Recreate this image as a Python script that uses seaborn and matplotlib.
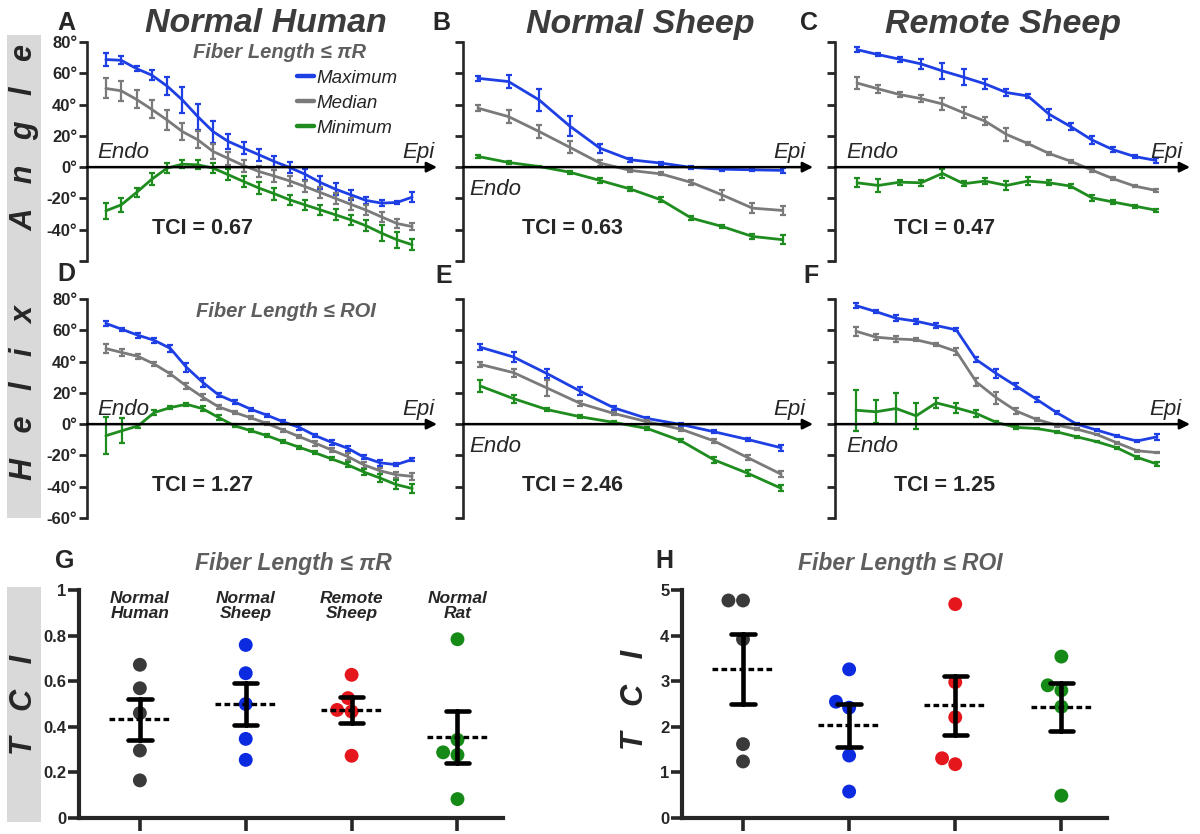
import numpy as np
import pandas as pd
import matplotlib
matplotlib.use('Agg')
import matplotlib.pyplot as plt
import seaborn as sns
from matplotlib.patches import Rectangle

sns.set_style('white')
plt.rcParams['font.family'] = ['Liberation Sans', 'DejaVu Sans']

# ---- helix angle profiles (mean, sem), Endo -> Epi ----
# A: normal human, fiber length <= pi R
a_max = [68.8, 68.3, 63.0, 58.8, 51.8, 42.9, 32.3, 22.7, 16.4, 12.1, 7.9, 3.6, -0.2, -4.5, -9.8, -14.1, -17.7, -21.3, -23.0, -22.6, -19.2]
a_max_err = [4.2, 2.5, 1.5, 3.0, 6.0, 8.5, 8.3, 7.0, 4.5, 4.0, 4.0, 3.7, 3.7, 3.5, 4.0, 3.7, 3.4, 2.3, 1.8, 0.8, 3.2]
a_med = [50.3, 48.8, 43.3, 36.9, 30.1, 22.7, 17.5, 10.0, 5.5, 1.0, -2.8, -5.7, -8.8, -12.4, -16.2, -20.0, -23.8, -27.5, -31.8, -36.0, -38.0]
a_med_err = [6.4, 6.4, 5.8, 5.8, 6.4, 5.3, 5.5, 5.0, 4.0, 3.8, 3.6, 3.8, 3.4, 3.8, 3.7, 3.7, 3.8, 3.2, 3.2, 3.0, 2.0]
a_min = [-27.9, -24.1, -16.2, -7.7, -0.6, 1.9, 1.5, -0.6, -4.9, -9.2, -13.4, -17.0, -20.9, -24.1, -27.3, -30.5, -33.7, -37.5, -42.2, -46.4, -49.6]
a_min_err = [5.0, 4.5, 3.0, 4.0, 3.2, 2.6, 3.0, 3.0, 3.5, 3.7, 3.7, 3.7, 3.2, 3.2, 3.2, 3.5, 3.4, 3.5, 5.0, 5.0, 3.6]

# B: normal sheep, pi R
b_max = [56.8, 54.7, 43.0, 26.4, 12.1, 4.7, 2.6, -0.2, -1.3, -1.7, -2.1]
b_max_err = [1.5, 4.0, 7.0, 6.6, 2.8, 1.2, 1.0, 0.8, 1.0, 1.0, 1.5]
b_med = [37.7, 32.3, 22.8, 12.8, 2.6, -2.1, -4.3, -9.8, -17.7, -26.2, -27.7]
b_med_err = [2.0, 4.0, 4.0, 4.0, 2.0, 1.0, 1.0, 1.5, 3.0, 3.0, 3.0]
b_min = [6.8, 3.0, 0.4, -3.2, -8.5, -14.0, -20.9, -32.6, -37.9, -44.3, -46.4]
b_min_err = [1.0, 1.0, 0.5, 1.0, 1.5, 1.5, 1.5, 1.5, 1.0, 1.5, 3.0]

# C: remote sheep, pi R
c_max = [75.1, 71.9, 69.0, 66.0, 61.5, 57.5, 53.2, 47.7, 45.5, 33.8, 26.0, 17.4, 11.1, 6.8, 4.3]
c_max_err = [1.5, 1.0, 1.5, 3.0, 5.0, 5.0, 3.0, 2.5, 1.5, 3.5, 2.0, 2.5, 1.5, 1.0, 1.5]
c_med = [53.8, 50.0, 46.4, 43.8, 40.4, 34.7, 29.4, 20.9, 15.1, 8.7, 3.8, -1.9, -7.4, -12.1, -14.9]
c_med_err = [4.0, 2.5, 1.5, 2.0, 4.0, 3.5, 2.5, 4.0, 1.0, 1.0, 1.0, 1.0, 1.0, 0.5, 1.0]
c_min = [-10.0, -11.7, -9.6, -10.0, -4.0, -10.6, -8.9, -11.7, -8.9, -10.0, -12.1, -19.6, -22.3, -24.9, -27.5]
c_min_err = [3.0, 4.0, 1.5, 2.0, 3.0, 1.5, 2.0, 3.0, 2.5, 1.5, 1.5, 2.0, 1.0, 1.0, 1.0]

# D: normal human, ROI
d_max = [64.4, 60.6, 56.8, 53.6, 48.4, 36.3, 26.8, 18.6, 14.1, 9.5, 5.7, 1.5, -2.1, -7.4, -11.6, -15.4, -21.1, -24.7, -25.9, -22.6]
d_max_err = [1.5, 1.0, 1.5, 1.5, 2.5, 3.0, 3.0, 1.5, 1.5, 1.0, 1.0, 1.0, 1.5, 1.0, 1.5, 1.5, 1.5, 2.0, 1.0, 1.0]
d_med = [48.3, 45.8, 43.3, 38.4, 32.1, 24.3, 17.3, 11.0, 7.4, 4.0, 0.4, -3.8, -8.0, -12.2, -16.5, -20.7, -26.0, -29.8, -32.3, -33.4]
d_med_err = [3.0, 2.5, 1.5, 1.5, 1.5, 2.0, 2.0, 1.0, 1.0, 1.0, 1.0, 1.0, 1.0, 1.5, 1.5, 2.0, 2.0, 2.0, 2.0, 2.0]
d_min = [-7.4, -4.2, -1.1, 7.4, 10.6, 12.7, 9.9, 4.2, -1.1, -4.2, -7.4, -11.2, -14.8, -18.4, -22.2, -26.0, -30.6, -34.4, -38.6, -41.1]
d_min_err = [12.0, 8.0, 1.5, 1.5, 1.0, 1.0, 1.5, 1.5, 1.0, 1.0, 1.0, 1.0, 1.0, 1.0, 1.0, 1.5, 2.0, 2.5, 3.0, 3.0]

# E: normal sheep, ROI
e_max = [49.2, 42.9, 32.3, 21.0, 10.4, 3.6, -0.2, -4.9, -9.8, -15.1]
e_max_err = [2.0, 3.0, 3.0, 2.5, 1.5, 1.0, 1.0, 1.0, 1.0, 2.0]
e_med = [38.2, 32.9, 23.1, 13.2, 6.8, 1.5, -3.2, -10.8, -21.4, -32.0]
e_med_err = [1.5, 2.5, 5.0, 1.5, 1.0, 1.0, 1.0, 1.0, 1.5, 2.0]
e_min = [24.4, 16.3, 9.3, 4.7, 1.1, -2.8, -10.6, -22.9, -31.4, -41.0]
e_min_err = [4.0, 2.5, 1.0, 1.0, 1.0, 1.0, 1.0, 2.0, 2.0, 2.0]

# F: remote sheep, ROI
f_max = [75.8, 71.9, 67.7, 65.8, 63.0, 60.3, 41.2, 32.3, 24.2, 15.9, 7.4, 0.0, -3.8, -7.6, -10.8, -8.1]
f_max_err = [1.5, 1.0, 2.0, 1.5, 1.5, 1.0, 1.5, 3.0, 2.0, 1.5, 1.0, 0.5, 0.5, 0.5, 0.5, 2.0]
f_med = [59.4, 55.6, 54.5, 53.9, 50.9, 46.5, 26.9, 16.8, 8.3, 3.0, -0.6, -3.2, -6.6, -11.9, -17.0, -18.2]
f_med_err = [3.0, 2.0, 2.0, 1.0, 1.0, 2.0, 2.5, 4.0, 2.0, 1.0, 1.0, 0.5, 0.5, 0.5, 0.5, 0.5]
f_min = [8.9, 7.9, 10.0, 5.3, 13.6, 10.4, 6.8, 1.1, -2.1, -2.8, -4.9, -8.1, -11.2, -15.1, -21.2, -25.5]
f_min_err = [13.0, 7.4, 10.0, 8.5, 3.0, 3.0, 2.5, 1.0, 1.0, 0.5, 0.5, 0.5, 0.5, 0.5, 1.0, 1.0]

tci_labels = ['TCI = 0.67', 'TCI = 0.63', 'TCI = 0.47', 'TCI = 1.27', 'TCI = 2.46', 'TCI = 1.25']
angle_ticks = [-60, -40, -20, 0, 20, 40, 60, 80]

# ---- TCI per heart ----
groups = ['Normal\nHuman', 'Normal\nSheep', 'Remote\nSheep', 'Normal\nRat']
g_human = [0.672, 0.569, 0.460, 0.296, 0.165]
g_sheep = [0.759, 0.635, 0.500, 0.347, 0.255]
g_remote = [0.628, 0.526, 0.474, 0.467, 0.273]
g_rat = [0.784, 0.343, 0.288, 0.277, 0.083]
h_human = [4.77, 4.77, 3.92, 1.62, 1.24]
h_sheep = [3.26, 2.55, 2.42, 1.37, 0.58]
h_remote = [4.69, 2.98, 2.21, 1.31, 1.18]
h_rat = [3.54, 2.91, 2.80, 2.44, 0.49]

BLUE, GRAY, GREEN = '#1d3fe4', '#7a7a7a', '#1e8c1e'
DOTS = ['#3a3a3a', '#0c2ae0', '#e5161c', '#168a16']
TITLE_C = '#3c3c3c'
SUB_C = '#5e5e5e'

fig = plt.figure(figsize=(12, 8.34), dpi=100)
W, H = 1200, 834


def add_ax(left, top, right, bottom):
    return fig.add_axes([left / W, 1 - bottom / H, (right - left) / W, (bottom - top) / H])


# gray side strips
fig.patches.append(Rectangle((7 / W, 1 - 518 / H), 34 / W, 483 / H, transform=fig.transFigure,
                             facecolor='#d9d9d9', edgecolor='none', zorder=0))
fig.patches.append(Rectangle((7 / W, 1 - 822 / H), 34 / W, 235 / H, transform=fig.transFigure,
                             facecolor='#d9d9d9', edgecolor='none', zorder=0))
fig.text(24 / W, 1 - 262 / H, 'H   e   l   i   x         A   n   g   l   e', rotation=90,
         ha='center', va='center', fontsize=22, fontweight='bold', fontstyle='italic')
fig.text(24 / W, 1 - 705 / H, 'T   C   I', rotation=90, ha='center', va='center',
         fontsize=22, fontweight='bold', fontstyle='italic')
fig.text(635 / W, 1 - 700 / H, 'T   C   I', rotation=90, ha='center', va='center',
         fontsize=22, fontweight='bold', fontstyle='italic')

# column titles
for xc, t in [(266, 'Normal Human'), (640, 'Normal Sheep'), (1003, 'Remote Sheep')]:
    fig.text(xc / W, 1 - 24 / H, t, ha='center', va='center', fontsize=24.5,
             fontweight='bold', fontstyle='italic', color=TITLE_C)

# panel letters
for xl, yl, t in [(57, 23, 'A'), (432, 23, 'B'), (800, 23, 'C'),
                  (57, 274, 'D'), (435, 276, 'E'), (803, 276, 'F'),
                  (55, 561, 'G'), (655, 561, 'H')]:
    fig.text(xl / W, 1 - yl / H, t, ha='left', va='center', fontsize=18, fontweight='bold')

panels = [
    # (box px), series, tci, first/last point (axes frac), endo above?, endo x, epi x, tci x, ylabels
    ((87, 42, 437, 261), (a_max, a_max_err, a_med, a_med_err, a_min, a_min_err), 0, (0.054, 0.929), True, 0.029, 0.994, 0.186, 'noLast'),
    ((463, 42, 813, 261), (b_max, b_max_err, b_med, b_med_err, b_min, b_min_err), 1, (0.043, 0.914), False, 0.017, 0.98, 0.17, None),
    ((835, 42, 1190, 261), (c_max, c_max_err, c_med, c_med_err, c_min, c_min_err), 2, (0.062, 0.904), True, 0.031, 0.98, 0.166, None),
    ((87, 299, 437, 518), (d_max, d_max_err, d_med, d_med_err, d_min, d_min_err), 3, (0.054, 0.929), True, 0.029, 0.994, 0.186, 'all'),
    ((463, 299, 813, 518), (e_max, e_max_err, e_med, e_med_err, e_min, e_min_err), 4, (0.049, 0.909), False, 0.017, 0.98, 0.17, None),
    ((835, 299, 1190, 518), (f_max, f_max_err, f_med, f_med_err, f_min, f_min_err), 5, (0.059, 0.907), False, 0.031, 0.977, 0.166, None),
]

prof_axes = []
for box, ser, ti, (f0, f1), endo_up, ex, px, tx, ylab in panels:
    ax = add_ax(*box)
    prof_axes.append(ax)
    vmax, emax, vmed, emed, vmin, emin = ser
    x = np.linspace(0, 1, len(vmax))  # normalised wall depth, Endo -> Epi
    for vals, errs, col, lab in [(vmax, emax, BLUE, 'Maximum'), (vmed, emed, GRAY, 'Median'),
                                 (vmin, emin, GREEN, 'Minimum')]:
        sns.lineplot(x=x, y=vals, color=col, lw=2.0, ax=ax, label=lab, clip_on=False)
        ax.errorbar(x, vals, yerr=errs, fmt='none', ecolor=col, elinewidth=1.6,
                    capsize=2.5, capthick=1.6, clip_on=False)
    span = 1 / (f1 - f0)
    ax.set_xlim(-f0 * span, -f0 * span + span)
    ax.set_ylim(-60, 80)
    ax.set_yticks(angle_ticks)
    if ylab is None:
        ax.set_yticklabels([])
    else:
        labs = ['%d°' % v for v in angle_ticks]
        if ylab == 'noLast':
            labs[0] = ''
        ax.set_yticklabels(labs, fontsize=12, fontweight='bold')
    ax.set_xticks([])
    for s in ['top', 'right', 'bottom']:
        ax.spines[s].set_visible(False)
    ax.spines['left'].set_linewidth(1.9)
    ax.tick_params(axis='y', direction='out', length=6, width=2.0, pad=1, left=True)
    ax.set_facecolor('none')
    tr = ax.get_yaxis_transform()
    ax.annotate('', xy=(1.0, 0), xytext=(0, 0), xycoords=tr, textcoords=tr,
                arrowprops=dict(arrowstyle='-|>', color='black', lw=1.8, mutation_scale=15,
                                shrinkA=0, shrinkB=0), annotation_clip=False)
    if endo_up:
        ax.text(ex, 5.8, 'Endo', transform=tr, ha='left', va='baseline', fontsize=16, fontstyle='italic')
    else:
        ax.text(ex, -17.5, 'Endo', transform=tr, ha='left', va='baseline', fontsize=16, fontstyle='italic')
    ax.text(px, 6, 'Epi', transform=tr, ha='right', va='baseline', fontsize=16, fontstyle='italic')
    ax.text(tx, -39, tci_labels[ti], transform=tr, ha='left', va='center', fontsize=15.5, fontweight='bold')
    leg = ax.get_legend()
    if leg is not None:
        leg.remove()

axA, axD = prof_axes[0], prof_axes[3]
axA.text(0.551, 73.5, 'Fiber Length ≤ πR', transform=axA.get_yaxis_transform(), ha='center', va='center',
         fontsize=14.5, fontweight='bold', fontstyle='italic', color=SUB_C)
axD.text(0.569, 71.7, 'Fiber Length ≤ ROI', transform=axD.get_yaxis_transform(), ha='center', va='center',
         fontsize=14.5, fontweight='bold', fontstyle='italic', color=SUB_C)
axA.legend(loc='upper left', bbox_to_anchor=(0.6, 0.875), frameon=False, borderaxespad=0, borderpad=0,
           handlelength=0.9, handletextpad=0.15, labelspacing=0.42,
           prop=dict(style='italic', size=13.5))
for ln in axA.get_legend().get_lines():
    ln.set_linewidth(3.2)

# ---- TCI scatter panels ----
df_pr = pd.DataFrame({'group': np.repeat(groups, 5), 'tci': g_human + g_sheep + g_remote + g_rat})
df_roi = pd.DataFrame({'group': np.repeat(groups, 5), 'tci': h_human + h_sheep + h_remote + h_rat})

scatter_specs = [
    ((79, 590, 503, 818), df_pr, (0, 1), [0, 0.2, 0.4, 0.6, 0.8, 1], ['0', '0.2', '0.4', '0.6', '0.8', '1'],
     'Fiber Length ≤ πR', 0.505, True),
    ((682, 590, 1107, 818), df_roi, (0, 5), [0, 1, 2, 3, 4, 5], ['0', '1', '2', '3', '4', '5'],
     'Fiber Length ≤ ROI', 0.513, False),
]
for box, df, ylim, yt, ytl, title, tx, show_groups in scatter_specs:
    ax = add_ax(*box)
    sns.swarmplot(data=df, x='group', y='tci', hue='group', palette=DOTS, size=10,
                  legend=False, ax=ax, zorder=2)
    sns.pointplot(data=df, x='group', y='tci', errorbar='se', color='black', linestyle='none',
                  marker='', capsize=0.22, err_kws={'linewidth': 3.3}, ax=ax, zorder=4)
    means = df.groupby('group', sort=False)['tci'].mean()
    pos = np.arange(len(means))
    ax.hlines(means.values, pos - 0.29, pos + 0.29, colors='black', linestyles=(0, (1.7, 1.0)),
              lw=2.4, zorder=5)
    ax.set_xlim(-0.575, 3.43)
    ax.set_ylim(*ylim)
    ax.set_yticks(yt)
    ax.set_yticklabels(ytl, fontsize=12, fontweight='bold')
    ax.set_xticks(pos)
    ax.tick_params(axis='x', labelbottom=False, direction='out', length=9, width=2.6, bottom=True)
    ax.tick_params(axis='y', direction='out', length=8, width=2.6, pad=1, left=True)
    ax.set_xlabel('')
    ax.set_ylabel('')
    for s in ['top', 'right']:
        ax.spines[s].set_visible(False)
    for s in ['left', 'bottom']:
        ax.spines[s].set_linewidth(3.0)
    ax.set_facecolor('none')
    ax.text(tx, 1.118, title, transform=ax.transAxes, ha='center', va='center', fontsize=16.5,
            fontweight='bold', fontstyle='italic', color=SUB_C)
    if show_groups:
        for i, g in enumerate(groups):
            ax.text(i, 0.995, g, ha='center', va='top', fontsize=12.5, fontweight='bold',
                    fontstyle='italic', linespacing=0.95)

fig.savefig('out.png', dpi=100)
